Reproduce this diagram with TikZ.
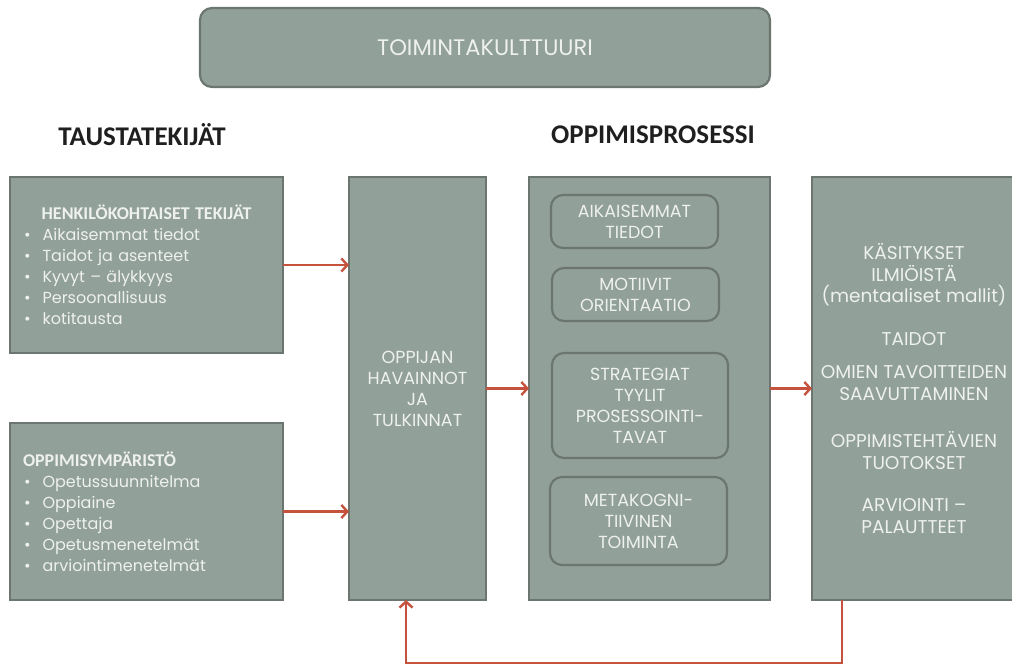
\documentclass[tikz,border=0pt]{standalone}
\usepackage{fontspec}
\setmainfont{Poppins}
\newfontfamily\otsikkofont{Carlito}
\usetikzlibrary{arrows.meta,positioning}
\definecolor{laatikkovari}{RGB}{145,160,152}
\definecolor{reunavari}{RGB}{106,118,111}
\definecolor{nuolivari}{RGB}{196,82,60}
\definecolor{tekstivari}{RGB}{238,241,238}
\tikzset{>={Straight Barb[length=6pt,width=13pt]}}
\newcommand\kohta{\hspace*{4pt}\textbullet\hspace{12pt}}
\newcommand\laatikkootsikko{\otsikkofont\bfseries\fontsize{18}{21}\selectfont}

\begin{document}
\begin{tikzpicture}[x=1pt,y=-1pt]
  \tikzstyle{every node}=[inner sep=0pt, outer sep=0pt]
  \tikzstyle{laatikko}=[draw=reunavari, fill=laatikkovari, line width=2pt, text=tekstivari, align=center, font=\fontsize{17.5}{21}\selectfont]
  \tikzstyle{pyorea}=[laatikko, rounded corners=12pt, line width=2.2pt]
  \tikzstyle{otsikko}=[font=\otsikkofont\bfseries\fontsize{27}{30}\selectfont, text=black!88]
  \tikzstyle{nuoli}=[->, draw=nuolivari, line width=2.4pt]
  \useasboundingbox (0,0) rectangle (1012,669);

  \node[pyorea, minimum width=570, minimum height=79, font=\fontsize{22.5}{24}\selectfont] (kulttuuri) at (485,47.5) {TOIMINTAKULTTUURI};
  \node[otsikko] (tausta) at (142,135) {TAUSTATEKIJÄT};
  \node[otsikko] (oppimis) at (653,135) {OPPIMISPROSESSI};

  % taustatekijat
  \node[laatikko, minimum width=273, minimum height=176, text width=253, align=left, font=\fontsize{16}{21}\selectfont] (henkilo) at (146.5,265)
    {\makebox[253pt][c]{\laatikkootsikko HENKILÖKOHTAISET TEKIJÄT}\\
     \kohta Aikaisemmat tiedot\\ \kohta Taidot ja asenteet\\ \kohta Kyvyt – älykkyys\\
     \kohta Persoonallisuus\\ \kohta kotitausta};
  \node[laatikko, minimum width=273, minimum height=177, text width=253, align=left, font=\fontsize{16}{21}\selectfont] (ymparisto) at (146.5,511.5)
    {\hspace*{3pt}{\laatikkootsikko OPPIMISYMPÄRISTÖ}\\
     \kohta Opetussuunnitelma\\ \kohta Oppiaine\\ \kohta Opettaja\\
     \kohta Opetusmenetelmät\\ \kohta arviointimenetelmät};

  \node[laatikko, minimum width=137, minimum height=423] (havainnot) at (417.5,388.5)
    {OPPIJAN\\HAVAINNOT\\JA\\TULKINNAT};

  % oppimisprosessi
  \node[laatikko, minimum width=241, minimum height=423] (prosessi) at (649.5,388.5) {};
  \node[pyorea, minimum width=167, minimum height=53] (tiedot) at (634.5,221.5) {AIKAISEMMAT\\TIEDOT};
  \node[pyorea, minimum width=167, minimum height=53] (motiivit) at (635.5,294.5) {MOTIIVIT\\ORIENTAATIO};
  \node[pyorea, minimum width=176, minimum height=105] (strategiat) at (640,405.5) {STRATEGIAT\\TYYLIT\\PROSESSOINTI-\\TAVAT};
  \node[pyorea, minimum width=177, minimum height=88] (metakog) at (638.5,521) {METAKOGNI-\\TIIVINEN\\TOIMINTA};

  % tulokset
  \node[laatikko, minimum width=204, minimum height=423, font=\fontsize{18.5}{21.5}\selectfont] (tulokset) at (914,388.5)
    {KÄSITYKSET\\ILMIÖISTÄ\\(mentaaliset mallit)\\[21pt]
     TAIDOT\\[12pt]
     OMIEN TAVOITTEIDEN\\SAAVUTTAMINEN\\[26pt]
     OPPIMISTEHTÄVIEN\\TUOTOKSET\\[21pt]
     ARVIOINTI –\\PALAUTTEET};

  \draw[nuoli] (henkilo.east) -- (havainnot.west |- henkilo.east);
  \draw[nuoli] (ymparisto.east) -- (havainnot.west |- ymparisto.east);
  \draw[nuoli] (havainnot.east) -- (prosessi.west);
  \draw[nuoli] (prosessi.east) -- (tulokset.west);
  % palaute
  \coordinate (paluuO) at (842,663);
  \coordinate (paluuV) at (406,663);
  \draw[nuoli] (paluuO |- tulokset.south) -- (paluuO) -- (paluuV) -- (paluuV |- havainnot.south);
\end{tikzpicture}
\end{document}
